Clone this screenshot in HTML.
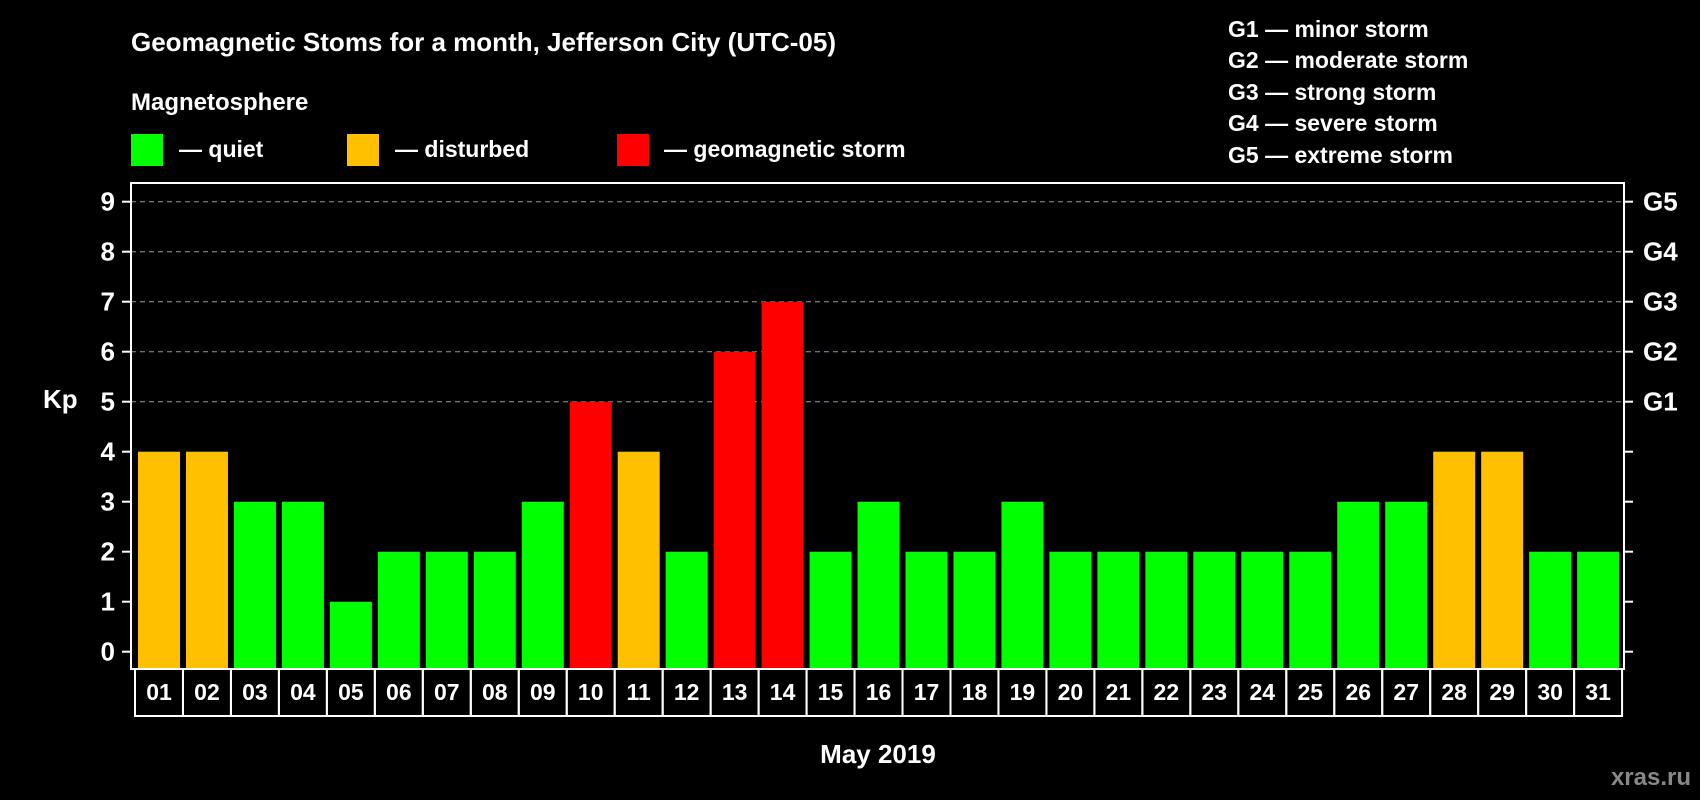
<!DOCTYPE html>
<html><head><meta charset="utf-8"><style>
html,body{margin:0;padding:0;background:#000;}
svg{display:block;font-family:"Liberation Sans",sans-serif;font-weight:bold;}
</style></head><body>
<svg id="chart" width="1700" height="800" viewBox="0 0 1700 800">
<rect x="0" y="0" width="1700" height="800" fill="#000"/>
<text x="131" y="51" font-size="26" fill="#fff">Geomagnetic Stoms for a month, Jefferson City (UTC-05)</text>
<text x="131" y="110" font-size="24" fill="#fff">Magnetosphere</text>
<rect x="131" y="134" width="32" height="32" fill="#00ff00"/>
<text x="179" y="157" font-size="23" fill="#fff">— quiet</text>
<rect x="347" y="134" width="32" height="32" fill="#ffc000"/>
<text x="395" y="157" font-size="23" fill="#fff">— disturbed</text>
<rect x="617" y="134" width="32" height="32" fill="#ff0000"/>
<text x="664" y="157" font-size="23" fill="#fff">— geomagnetic storm</text>
<g font-size="23" fill="#fff">
<text x="1228" y="37">G1 — minor storm</text>
<text x="1228" y="68">G2 — moderate storm</text>
<text x="1228" y="100">G3 — strong storm</text>
<text x="1228" y="131">G4 — severe storm</text>
<text x="1228" y="163">G5 — extreme storm</text>
</g>
<text x="43" y="408" font-size="26" fill="#fff">Kp</text>
<text x="878" y="763" font-size="26" fill="#fff" text-anchor="middle">May 2019</text>
<text x="1691" y="785" font-size="24" fill="#888" text-anchor="end">xras.ru</text>
<g id="plot"></g>
</svg>
<script>
const days = ["01","02","03","04","05","06","07","08","09","10","11","12","13","14","15","16","17","18","19","20","21","22","23","24","25","26","27","28","29","30","31"];
const kpValues = [4,4,3,3,1,2,2,2,3,5,4,2,6,7,2,3,2,2,3,2,2,2,2,2,2,3,3,4,4,2,2];
const yTicks = [0,1,2,3,4,5,6,7,8,9];
const gLabels = ["G1","G2","G3","G4","G5"];
const gLevels = [5,6,7,8,9];

const NS = "http://www.w3.org/2000/svg";
const plot = document.getElementById("plot");
const L = 131, R = 1624, T = 183, B = 669;
const y0 = 651.7, unit = 50;
const pitch = 47.97, barStart = 138, barW = 42;
function yScale(v){ return y0 - v*unit; }
function xScale(i){ return barStart + i*pitch; }
function mk(tag, attrs){ const e = document.createElementNS(NS, tag); for (const k in attrs) e.setAttribute(k, attrs[k]); plot.appendChild(e); return e; }
function color(v){ return v >= 5 ? "#ff0000" : (v >= 4 ? "#ffc000" : "#00ff00"); }

yTicks.forEach(function(t){
  const y = yScale(t);
  if (t >= 5) {
    const g = mk("line", {x1: L, x2: R, y1: y, y2: y, stroke: "#999", "stroke-width": 1, "stroke-dasharray": "5,4"});
    
    
  }
  const tl = mk("line", {x1: L-9, x2: L, y1: y, y2: y, stroke: "#fff", "stroke-width": 2});
  
  
  const tr = mk("line", {x1: R, x2: R+9, y1: y, y2: y, stroke: "#fff", "stroke-width": 2});
  
  
  const tx = mk("text", {x: 115, y: y+9, "font-size": 26, fill: "#fff", "text-anchor": "end"});
  tx.textContent = t;
  
  
});
gLabels.forEach(function(g, i){
  const t = mk("text", {x: 1643, y: yScale(gLevels[i])+9, "font-size": 26, fill: "#fff"});
  t.textContent = g;
  
  
});
kpValues.forEach(function(v, i){
  const x = xScale(i);
  const top = yScale(v);
  const b = mk("rect", {x: x, y: top, width: barW, height: B - top, fill: color(v)});
  
  
  const bx = mk("rect", {x: 135 + i*pitch, y: B, width: pitch, height: 47, fill: "none", stroke: "#fff", "stroke-width": 2});
  
  
  const t = mk("text", {x: 135 + i*pitch + pitch/2, y: 700, "font-size": 23, fill: "#fff", "text-anchor": "middle"});
  t.textContent = days[i];
  
  
});
const frame = mk("rect", {x: L, y: T, width: R-L, height: B-T, fill: "none", stroke: "#fff", "stroke-width": 2});


</script>
</body></html>
